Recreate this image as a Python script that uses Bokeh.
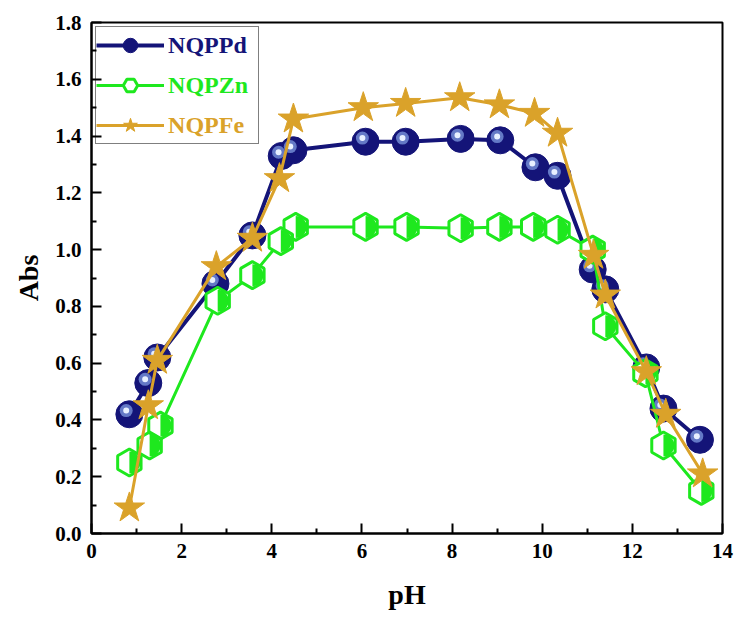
import math
from bokeh.plotting import figure
from bokeh.models import FixedTicker, Legend, LegendItem, Label, ColumnDataSource, CustomJSTickFormatter
from bokeh.transform import dodge
from bokeh.embed import file_html
from bokeh.resources import INLINE

# ---- data ----
ph_pd = [0.84, 1.26, 1.46, 2.75, 3.57, 4.22, 4.48, 6.08, 6.97, 8.19, 9.07, 9.85, 10.34, 11.12, 11.40, 12.31, 12.69, 13.50]
abs_pd = [0.42, 0.53, 0.62, 0.88, 1.05, 1.33, 1.35, 1.38, 1.38, 1.39, 1.385, 1.29, 1.26, 0.93, 0.86, 0.585, 0.44, 0.33]

ph_zn = [0.84, 1.29, 1.53, 2.80, 3.57, 4.20, 4.53, 6.08, 6.99, 8.19, 9.05, 9.80, 10.34, 11.12, 11.40, 12.29, 12.69, 13.53]
abs_zn = [0.25, 0.31, 0.38, 0.82, 0.91, 1.03, 1.08, 1.08, 1.08, 1.075, 1.08, 1.08, 1.07, 1.00, 0.73, 0.565, 0.31, 0.15]

ph_fe = [0.84, 1.26, 1.46, 2.77, 3.57, 4.17, 4.48, 6.03, 6.97, 8.17, 9.05, 9.83, 10.34, 11.14, 11.40, 12.31, 12.74, 13.56]
abs_fe = [0.09, 0.45, 0.61, 0.94, 1.04, 1.25, 1.46, 1.50, 1.515, 1.535, 1.51, 1.48, 1.41, 0.98, 0.84, 0.57, 0.42, 0.21]

series_names = ["NQPPd", "NQPZn", "NQPFe"]
x_ticks = [0, 2, 4, 6, 8, 10, 12, 14]
y_ticks = [0.0, 0.2, 0.4, 0.6, 0.8, 1.0, 1.2, 1.4, 1.6, 1.8]

NAVY = "#141478"
GREEN = "#1ee81e"
GOLD = "#daa22a"
FONT = "Liberation Serif"

p = figure(width=741, height=623, x_range=(0, 14), y_range=(0, 1.8),
           output_backend="svg", toolbar_location=None,
           min_border_left=91, min_border_right=19, min_border_top=22, min_border_bottom=90)
p.grid.visible = False
p.outline_line_color = "black"
p.outline_line_width = 2
p.background_fill_color = "white"
p.border_fill_color = "white"

p.xaxis.ticker = FixedTicker(ticks=x_ticks, minor_ticks=[1, 3, 5, 7, 9, 11, 13])
p.yaxis.ticker = FixedTicker(ticks=y_ticks, minor_ticks=[0.1, 0.3, 0.5, 0.7, 0.9, 1.1, 1.3, 1.5, 1.7])
p.yaxis.formatter = CustomJSTickFormatter(code="return tick.toFixed(1);")

for ax in (p.xaxis[0], p.yaxis[0]):
    ax.axis_line_width = 2
    ax.major_tick_in = 10
    ax.major_tick_out = 0
    ax.minor_tick_in = 5
    ax.minor_tick_out = 0
    ax.major_tick_line_width = 2
    ax.minor_tick_line_width = 2
    ax.major_label_text_font = FONT
    ax.major_label_text_font_style = "bold"
    ax.major_label_text_font_size = "21px"
    ax.major_label_text_color = "black"
    ax.axis_label_text_font = FONT
    ax.axis_label_text_font_style = "bold"
    ax.axis_label_text_font_size = "28px"
    ax.axis_label_text_color = "black"

p.xaxis.axis_label = "pH"
p.yaxis.axis_label = "Abs"
p.xaxis.major_label_standoff = 10
p.xaxis.axis_label_standoff = 18
p.yaxis.major_label_standoff = 10
p.yaxis.axis_label_standoff = 8

# NQPPd
l_pd = p.line(ph_pd, abs_pd, line_color=NAVY, line_width=4)
src_pd = ColumnDataSource(dict(x=ph_pd, y=abs_pd))
c_pd = p.scatter("x", "y", source=src_pd, marker="circle", size=27, fill_color=NAVY, line_color=NAVY)
h1 = p.scatter(dodge("x", -0.07), dodge("y", 0.013), source=src_pd, marker="circle", size=13,
               fill_color="#7f9be0", line_color=None, fill_alpha=0.75)
h2 = p.scatter(dodge("x", -0.07), dodge("y", 0.013), source=src_pd, marker="circle", size=6,
               fill_color="#e8f0ff", line_color=None)

# NQPZn
l_zn = p.line(ph_zn, abs_zn, line_color=GREEN, line_width=3)
src_zn = ColumnDataSource(dict(x=ph_zn, y=abs_zn))
bg_zn = p.scatter("x", "y", source=src_zn, marker="hex", size=27, angle=math.pi / 6,
                  fill_color="white", line_color=None)
w_zn = p.wedge("x", "y", source=src_zn, radius=11, radius_units="screen",
               start_angle=-math.pi / 2, end_angle=math.pi / 2, fill_color=GREEN, line_color=None)
c_zn = p.scatter("x", "y", source=src_zn, marker="hex", size=27, angle=math.pi / 6,
                 fill_color=None, line_color=GREEN, line_width=3)

# NQPFe
l_fe = p.line(ph_fe, abs_fe, line_color=GOLD, line_width=3)
c_fe = p.scatter(ph_fe, abs_fe, marker="star", size=32, fill_color=GOLD, line_color=GOLD)

legend = Legend(items=[
    LegendItem(label=series_names[0], renderers=[l_pd, c_pd]),
    LegendItem(label=series_names[1], renderers=[l_zn, bg_zn, c_zn]),
    LegendItem(label=series_names[2], renderers=[l_fe, c_fe]),
], location="top_left")
legend.margin = 4
legend.padding = 0
legend.spacing = 4
legend.glyph_height = 36
legend.glyph_width = 68
legend.label_standoff = 2
legend.label_width = 92
legend.label_text_font = FONT
legend.label_text_font_style = "bold"
legend.label_text_font_size = "24px"
legend.label_text_alpha = 0
legend.border_line_color = "black"
legend.border_line_width = 1.5
legend.background_fill_alpha = 0
p.add_layout(legend, "center")

# coloured legend labels, placed in data coordinates beside the legend glyphs
label_x = 1.70
label_y = [1.722, 1.581, 1.440]
colors = [NAVY, GREEN, GOLD]
for name, col, ly in zip(series_names, colors, label_y):
    p.add_layout(Label(x=label_x, y=ly, text=name,
                       text_font=FONT, text_font_style="bold", text_font_size="24px",
                       text_color=col, text_baseline="middle"))

open("out.html", "w").write(file_html(p, INLINE))
